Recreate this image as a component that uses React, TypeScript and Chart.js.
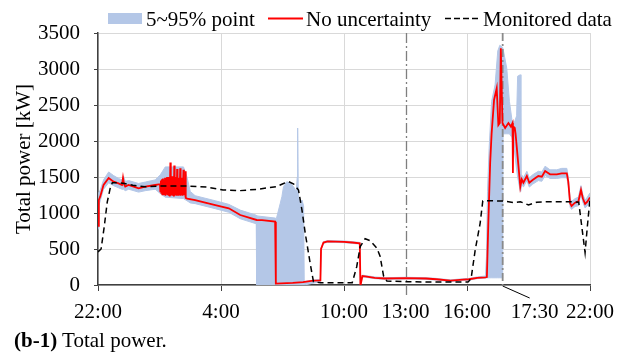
import React, { useEffect, useRef } from 'react';
import { Chart, registerables } from 'chart.js';

Chart.register(...registerables);

const FONT = '"Liberation Serif", "Times New Roman", serif';
const BAND_COLOR = '#b4c7e7';
const RED = '#ff0000';

// x axis in hours after 22:00
const xTickValues = [0, 6, 12, 15, 18, 24];
const xTickLabels = ['22:00', '4:00', '10:00', '13:00', '16:00', '22:00'];
const markerHours = [15, 19.74];
const markerLabel = '17:30';
const legendLabels = ['5~95% point', 'No uncertainty', 'Monitored data'];
const yTitle = 'Total power [kW]';

// "No uncertainty" series
const redT = [
  0.0, 0.04, 0.11, 0.27, 0.52, 0.76, 1.0, 1.17, 1.22, 1.27, 1.33, 1.49, 1.74, 1.98, 2.31, 2.79, 3.02,
  3.04, 3.07, 3.09, 3.12, 3.14, 3.17, 3.19, 3.22, 3.24, 3.27, 3.29, 3.32, 3.34, 3.37, 3.39, 3.42, 3.44, 3.47,
  3.5, 3.53, 3.55, 3.58, 3.6, 3.63, 3.65, 3.68, 3.7, 3.72, 3.74, 3.77, 3.79, 3.82, 3.84, 3.86, 3.88, 3.91,
  3.93, 3.96, 3.98, 4.01, 4.03, 4.06, 4.08, 4.11, 4.13, 4.17, 4.19, 4.22, 4.25, 4.27, 4.29,
  4.35, 4.74, 5.72, 6.38, 6.94, 7.74, 8.0, 8.64, 8.67, 8.68, 9.5, 10.0, 10.5, 10.85, 10.88, 11.0, 11.2,
  12.0, 12.4, 12.77, 12.8, 12.82, 12.9, 13.03, 13.5, 14.0, 15.0, 16.0, 16.5, 17.2, 17.8, 18.1, 18.5, 18.9,
  18.97, 19.04, 19.13, 19.2, 19.32, 19.45, 19.53, 19.6, 19.65, 19.73, 19.86, 20.02, 20.14, 20.22, 20.24,
  20.26, 20.33, 20.37, 20.6, 20.67, 20.75, 20.92, 21.04, 21.2, 21.48, 21.65, 21.81, 22.05, 22.38, 22.62,
  22.87, 22.94, 23.03, 23.1, 23.27, 23.43, 23.56, 23.65, 23.76, 23.87, 24.0,
];
const redV = [
  820, 1180, 1230, 1390, 1485, 1435, 1412, 1389, 1490, 1400, 1366, 1389, 1366, 1343, 1366, 1389, 1400,
  1300, 1450, 1280, 1470, 1260, 1480, 1270, 1460, 1250, 1490, 1240, 1470, 1260, 1500, 1250, 1480, 1240, 1500,
  1230, 1700, 1240, 1490, 1250, 1510, 1240, 1480, 1230, 1660, 1240, 1500, 1250, 1480, 1240, 1610, 1250, 1490,
  1240, 1480, 1250, 1620, 1240, 1490, 1250, 1470, 1240, 1600, 1250, 1460, 1260, 1580, 1210,
  1200, 1180, 1111, 1065, 972, 903, 900, 880, 880, 20, 30, 40, 60, 65, 500, 590, 605,
  600, 590, 580, 10, 15, 125, 120, 100, 90, 95, 90, 80, 60, 75, 80, 100, 107,
  110, 860, 1700, 2100, 2570, 2732, 2222, 2250, 3288, 2250, 2180, 2250, 2200, 2250, 1555,
  2200, 2180, 2100, 1365, 1468, 1421, 1514, 1421, 1458, 1514, 1505, 1583, 1537, 1537, 1551,
  1551, 1435, 1135, 1097, 1143, 1157, 1320, 1204, 1125, 1157, 1217,
];

// 5~95% band
const bandT = [
  0.0, 0.04, 0.11, 0.27, 0.52, 0.76, 1.0, 1.17, 1.25, 1.33, 1.5, 1.98, 2.31, 2.79, 3.04, 3.28, 4.17, 4.34,
  4.5, 4.74, 5.72, 6.38, 6.94, 7.72, 7.74, 8.64, 8.7, 8.89, 8.97, 9.05, 9.21, 9.38, 9.54, 9.67, 9.72, 9.74,
  9.77, 9.86, 9.95, 10.03, 10.06, 10.85, 10.88, 11.0, 11.2, 12.0, 12.4, 12.77, 12.8, 12.9, 13.03, 13.5,
  14.0, 15.0, 16.0, 16.5, 17.2, 17.8, 18.1, 18.5, 18.9, 18.95, 19.0, 19.08, 19.2,
  19.37, 19.5, 19.6, 19.74, 19.76, 19.94, 20.07, 20.19, 20.3, 20.42, 20.47, 20.6, 20.63, 20.67, 20.75,
  20.92, 21.04, 21.2, 21.48, 21.65, 21.81, 22.05, 22.38, 22.62, 22.87, 22.94, 23.03, 23.1, 23.27, 23.43,
  23.56, 23.65, 23.76, 23.87, 24.0,
];
const bandLo = [
  780, 1100, 1170, 1330, 1420, 1380, 1350, 1330, 1330, 1310, 1330, 1290, 1310, 1330, 1270, 1220, 1200, 1170,
  1140, 1130, 1060, 1010, 920, 850, 0, 0, 0, 0, 0, 0, 0, 0, 0, 0, 0, 0,
  0, 0, 0, 0, 0, 45, 488, 578, 593, 588, 578, 568, 0, 113, 108, 88,
  78, 83, 78, 68, 48, 63, 68, 88, 95, 100, 100, 100, 100,
  100, 100, 100, 100, 2100, 2100, 2100, 2050, 1900, 1600, 1500, 1300, 1320, 1410, 1360,
  1450, 1360, 1400, 1450, 1440, 1520, 1480, 1480, 1490, 1490, 1380, 1080, 1050, 1090, 1100,
  1260, 1150, 1070, 1100, 1160,
];
const bandHi = [
  880, 1280, 1320, 1460, 1570, 1520, 1480, 1460, 1510, 1440, 1450, 1410, 1430, 1460, 1530, 1640, 1640, 1500,
  1300, 1240, 1170, 1120, 1040, 970, 960, 930, 920, 1134, 1227, 1366, 1435, 1412, 1366, 1296, 1500, 2180,
  1250, 1111, 1180, 1100, 50, 80, 512, 602, 617, 612, 602, 592, 25, 137, 132, 112,
  102, 107, 102, 92, 72, 87, 92, 112, 125, 400, 1300, 1900, 2550,
  2780, 3250, 3330, 3300, 3280, 3010, 2550, 2300, 2250, 2350, 2900, 2920, 1520, 1530, 1490,
  1580, 1490, 1530, 1580, 1570, 1650, 1600, 1600, 1620, 1620, 1500, 1200, 1160, 1200, 1220,
  1380, 1260, 1180, 1220, 1280,
];

// Monitored data
const monT = [
  0.0, 0.15, 0.3, 0.45, 0.6, 0.7, 1.0, 1.3, 1.7, 2.3, 3.0, 4.4, 5.3, 6.1, 6.9, 7.8, 8.7, 9.05, 9.3, 9.55,
  9.78, 9.95, 10.11, 10.35, 10.51, 10.85, 12.4, 12.62, 12.79, 13.03, 13.28, 13.6, 13.76, 13.93, 14.09,
  15.06, 16.7, 18.05, 18.2, 18.4, 18.64, 18.77, 18.97, 19.78, 20.27, 20.6, 21.0, 21.4, 22.05, 23.0, 23.45,
  23.6, 23.76, 23.87, 24.0,
];
const monV = [
  460, 500, 800, 1150, 1350, 1420, 1420, 1410, 1385, 1365, 1375, 1375, 1360, 1320, 1310, 1330, 1366, 1410, 1435, 1400,
  1320, 1040, 718, 300, 46, 30, 30, 254, 533, 643, 616, 514, 400, 125, 56,
  46, 40, 40, 90, 486, 856, 1167, 1170, 1167, 1144, 1157, 1111, 1150, 1157, 1157, 1150,
  810, 450, 810, 1200,
];

const zip = (t: number[], v: number[]) => t.map((x, i) => ({ x, y: v[i] }));

const overlayPlugin = {
  id: 'overlay',
  afterDatasetDraw(chart: any, args: any) {
    if (args.index !== 1) return;
    const { ctx, chartArea } = chart;
    const xs = chart.scales.x;
    ctx.save();
    ctx.strokeStyle = '#7f7f7f';
    ctx.lineWidth = 1.3;
    ctx.setLineDash([10, 3, 2, 3]);
    let px = Math.round(xs.getPixelForValue(markerHours[0])) + 0.5;
    ctx.beginPath();
    ctx.moveTo(px, chartArea.top);
    ctx.lineTo(px, chartArea.bottom + 11);
    ctx.stroke();
    px = xs.getPixelForValue(markerHours[1]);
    ctx.lineWidth = 1.8;
    ctx.setLineDash([8, 3, 2, 3]);
    ctx.strokeStyle = '#8a8a8a';
    ctx.beginPath();
    ctx.moveTo(px, chartArea.top);
    ctx.lineTo(px, chartArea.bottom);
    ctx.stroke();
    ctx.restore();
  },
  afterDraw(chart: any) {
    const { ctx, chartArea } = chart;
    const xs = chart.scales.x;
    ctx.save();
    // 17:30 leader + label
    const px = xs.getPixelForValue(markerHours[1]);
    ctx.strokeStyle = '#000';
    ctx.lineWidth = 1;
    ctx.setLineDash([]);
    ctx.beginPath();
    ctx.moveTo(px, chartArea.bottom + 1);
    ctx.lineTo(px + 27, chartArea.bottom + 13);
    ctx.stroke();
    ctx.font = `21px ${FONT}`;
    ctx.fillStyle = '#000';
    ctx.textAlign = 'center';
    ctx.textBaseline = 'middle';
    ctx.fillText(markerLabel, px + 32, chartArea.bottom + 27.6);

    // legend
    ctx.textAlign = 'left';
    ctx.textBaseline = 'alphabetic';
    ctx.fillStyle = BAND_COLOR;
    ctx.fillRect(108, 13, 34, 11);
    ctx.fillStyle = '#000';
    ctx.fillText(legendLabels[0], 146, 26);
    ctx.strokeStyle = RED;
    ctx.lineWidth = 2;
    ctx.beginPath();
    ctx.moveTo(268, 18.5);
    ctx.lineTo(303, 18.5);
    ctx.stroke();
    ctx.fillText(legendLabels[1], 306, 26);
    ctx.strokeStyle = '#000';
    ctx.lineWidth = 1.5;
    ctx.setLineDash([6, 3]);
    ctx.beginPath();
    ctx.moveTo(445, 18.5);
    ctx.lineTo(478, 18.5);
    ctx.stroke();
    ctx.setLineDash([]);
    ctx.fillText(legendLabels[2], 483, 26);
    ctx.restore();
  },
};

export default function App() {
  const ref = useRef<HTMLCanvasElement>(null);
  useEffect(() => {
    if (!ref.current) return;
    const chart = new Chart(ref.current, {
      type: 'line',
      data: {
        datasets: [
          {
            label: 'p5',
            data: zip(bandT, bandLo),
            borderColor: BAND_COLOR,
            borderWidth: 1,
            pointRadius: 0,
            fill: false,
            order: 3,
          },
          {
            label: legendLabels[0],
            data: zip(bandT, bandHi),
            borderColor: BAND_COLOR,
            backgroundColor: BAND_COLOR,
            borderWidth: 1,
            pointRadius: 0,
            fill: '-1',
            order: 2,
          },
          {
            label: legendLabels[1],
            data: zip(redT, redV),
            borderColor: RED,
            borderWidth: 1.8,
            pointRadius: 0,
            fill: false,
            order: 1,
          },
          {
            label: legendLabels[2],
            data: zip(monT, monV),
            borderColor: '#000',
            borderWidth: 1.5,
            borderDash: [6, 4],
            pointRadius: 0,
            fill: false,
            order: 0,
          },
        ],
      },
      options: {
        animation: false,
        responsive: false,
        devicePixelRatio: 1,
        layout: { padding: { top: 33, right: 35, left: 0, bottom: 0 } },
        plugins: { legend: { display: false }, tooltip: { enabled: false } },
        elements: { line: { tension: 0 } },
        scales: {
          x: {
            type: 'linear',
            min: 0,
            max: 24,
            afterBuildTicks: (scale: any) => {
              scale.ticks = xTickValues.map((v) => ({ value: v }));
            },
            afterFit: (scale: any) => {
              scale.height = 45;
            },
            grid: {
              color: (c: any) => (c.tick && c.tick.value === 15 ? 'rgba(0,0,0,0)' : '#d9d9d9'),
              tickColor: (c: any) => (c.tick && c.tick.value === 15 ? 'rgba(0,0,0,0)' : '#404040'),
              tickLength: 6,
              lineWidth: 1,
            },
            border: { color: '#404040', width: 1.5 },
            ticks: {
              autoSkip: false,
              maxRotation: 0,
              padding: 9,
              color: '#000',
              font: { family: FONT, size: 21 },
              callback: (v: any) => {
                const i = xTickValues.indexOf(Number(v));
                return i >= 0 ? xTickLabels[i] : '';
              },
            },
          },
          y: {
            min: 0,
            max: 3500,
            afterFit: (scale: any) => {
              scale.width = 98;
            },
            grid: { color: '#d9d9d9', tickColor: '#404040', tickLength: 4, lineWidth: 1 },
            border: { color: '#404040', width: 1.5 },
            ticks: {
              stepSize: 500,
              padding: 14,
              color: '#000',
              font: { family: FONT, size: 21 },
              callback: (v: any) => String(v),
            },
            title: {
              display: true,
              text: yTitle,
              color: '#000',
              font: { family: FONT, size: 21 },
              padding: { top: 12, bottom: 0 },
            },
          },
        },
      },
      plugins: [overlayPlugin],
    });
    return () => chart.destroy();
  }, []);

  return (
    <div style={{ position: 'absolute', left: 0, top: 0, width: 625, height: 354, background: '#fff' }}>
      <canvas ref={ref} width={625} height={330} style={{ display: 'block', width: 625, height: 330 }} />
      <div
        style={{
          position: 'absolute',
          left: 14,
          top: 330,
          fontFamily: FONT,
          fontSize: 21,
          lineHeight: '21px',
          color: '#000',
          whiteSpace: 'nowrap',
        }}
      >
        <b>(b-1)</b> Total power.
      </div>
    </div>
  );
}
